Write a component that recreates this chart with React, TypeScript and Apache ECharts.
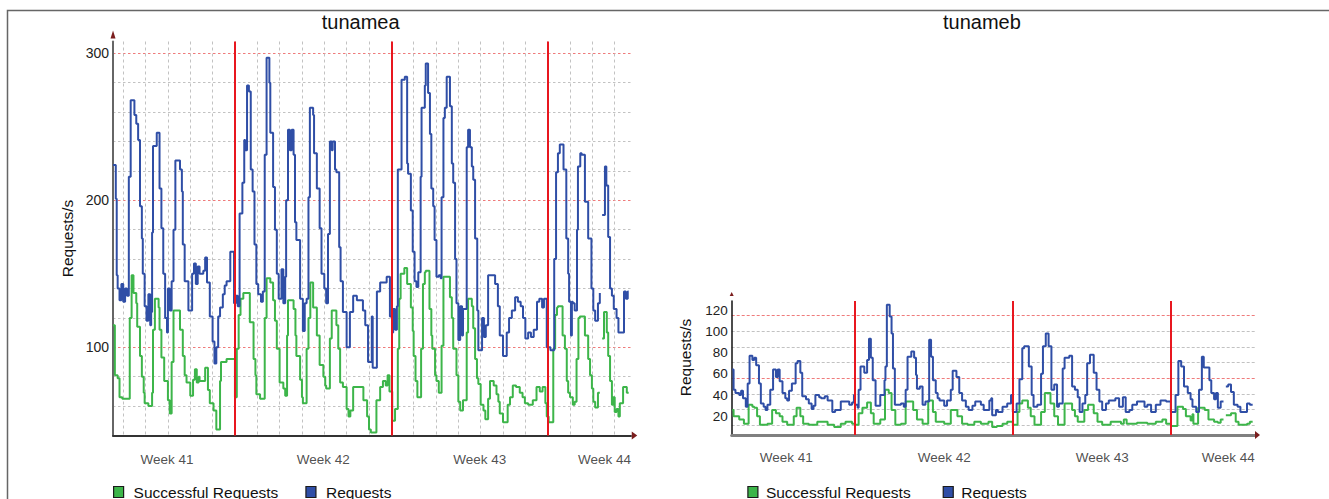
import React, { useEffect, useRef } from "react";
import * as echarts from "echarts";

type Pt = [number, number | null];

// ---------- texts / categories ----------
const panelTitles = ["tunamea", "tunameb"];
const seriesNames = ["Successful Requests", "Requests"];
const yAxisName = "Requests/s";
const weekLabels = ["Week 41", "Week 42", "Week 43", "Week 44"];
const weekLabelHours = [95, 263, 431, 565]; // hours since Monday of week 41
const weekStartHours = [168, 336, 504];
const yTickLabelsA = [100, 200, 300];
const yTickLabelsB = [20, 40, 60, 80, 100, 120];

// ---------- data: [hour since Mon wk41 00:00, requests/s] ----------
const requestsA: Pt[] = [
  [37,224],[40,201],[41,149],[42,140],[44,132],[46,143],[48,131],[50,140],[52,135],[54,216],[56,268],[60,258],[62,252],[64,241],[66,196],[68,174],[69,150],[71,128],[73,118],[75,136],[77,115],[78,124],[79,178],[80,237],[84,246],[87,208],[89,181],[91,150],[93,120],[95,110],[96,140],[98,125],[100,145],[102,180],[104,227],[109,221],[111,206],[112,170],[114,145],[118,125],[122,150],[124,157],[126,143],[128,155],[130,150],[134,152],[136,161],[138,144],[141,121],[144,104],[146,89],[148,100],[150,121],[152,127],[155,136],[157,142],[159,145],[163,165],[167,130],
  [169,135],[171,128],[173,191],[176,212],[178,241],[179,234],[181,278],[183,274],[185,221],[187,206],[189,170],[191,143],[193,136],[196,131],[198,138],[200,231],[202,297],[205,280],[206,246],[209,209],[211,180],[213,150],[215,133],[218,153],[220,130],[222,148],[223,200],[225,248],[227,234],[229,248],[231,231],[232.5,185],[234,173],[238,133],[241,111],[243,130],[245,133],[247,202],[248.5,263],[252,258],[253,232],[256,208],[259,181],[261,150],[264,140],[266,130],[268,177],[270,240],[272,234],[273,240],[275.5,221],[277,219],[280,168],[281.5,145],[284,124],[288,100],[291.5,124],[295,135],[299,132],[305.5,125],[308,115],[311,90],[315,121],[316,86],[320.5,138],[324,144],[331,148],[334.5,121],
  [337,110],[338,126],[340,112],[342,128],[343,221],[347,282],[350.5,284],[353,225],[354,218],[357,193],[359,165],[361,145],[363,141],[365,151],[367.5,216],[368.5,263],[372,278],[373,293],[375.5,273],[377.5,245],[379,208],[381,196],[382.5,173],[384.5,148],[387,149],[389,147],[390,202],[392,256],[393.5,263],[395.5,284],[399,264],[401,225],[402.5,212],[404.5,160],[406,130],[408,105],[410,128],[412,108],[413,126],[417,236],[418.5,248],[420.5,236],[422.5,223],[424,214],[426,174],[428.3,125],[429.5,98],[433.5,120],[435.5,107],[437.5,115],[440,149],[447.5,143],[450.5,128],[452.5,108],[456,94],[460,110],[462.5,120],[465.5,125],[469,134],[472,131],[475,128],[477.5,120],[480,106],[483,110],[486,107],[489,112],[492.5,131],[495,133],[498,127],[500,133],
  [503,100],[507,98],[511,160],[513,219],[515,232],[517,238],[521,221],[524,174],[526,150],[527,131],[529,108],[530,131],[531,130],[533,125],[535.5,180],[536.5,223],[539,232],[540.5,231],[544,199],[547.5,174],[551,140],[553,125],[555,118],[558,130],[560,137],[560.5,null],[562.5,190],[565.5,223],[567,210],[569,175],[571,140],[573,135],[575,126],[578,120],[580,110],[586,138],[588,133],[590,138],[591,138]
];

const successA: Pt[] = [
  [37,115],[39,81],[42,79],[44,66],[47,65],[55,120],[57,149],[59,137],[62,130],[63,114],[66,94],[68,80],[70,69],[71,62],[75,60],[79,69],[80,112],[82,133],[86,127],[87,112],[89,93],[92,77],[96,64],[98,55],[100,90],[102,125],[109,112],[112,94],[114,81],[116,76],[120,67],[123,78],[125,85],[127,76],[129,80],[130,77],[136,86],[139,71],[141,62],[145,57],[148,44],[152,77],[153,90],[159,92],[168,66],
  [170,99],[172,122],[174,133],[177,137],[184,117],[188,92],[190,81],[191,68],[195,65],[200,120],[202,147],[206,144],[209,132],[211,118],[213,99],[216,76],[220,72],[222,67],[224,108],[225,132],[231,126],[233,108],[234,94],[238,78],[240,66],[241,62],[245,99],[247,120],[249,144],[252,127],[256,108],[259,88],[263,80],[265,74],[266,72],[270,106],[272,125],[277,115],[279,99],[281,76],[284,73],[288,58],[290,53],[292,57],[295,73],[306,64],[310,53],[312,44],[314,42],[320,64],[324,73],[327,77],[330,74],[332,81],[334,70],
  [337,50],[340,58],[343,99],[344.5,133],[346,150],[350,154],[353,143],[357,127],[359,111],[360,94],[362,77],[364,66],[368,99],[370,143],[372,151],[373,152],[377,126],[379,108],[380,99],[383,81],[384.5,77],[387,69],[390,101],[392,148],[399,134],[401,120],[402.5,99],[406,81],[408,63],[410,57],[413,64],[417,110],[418.5,133],[422.5,128],[424,113],[426,92],[428,79],[429.5,75],[432,61],[435,57],[437,51],[440,65],[442,77],[446,74],[449,68],[451,63],[452.5,55],[456,49],[461,61],[463.5,66],[466.5,74],[470,73],[474,69],[477,66],[479.5,62],[483,61],[488,64],[492,73],[495.5,70],[498.5,73],[501.5,62],
  [503,53],[505,49],[510,99],[512,122],[514,127],[515,128],[520,108],[522.5,99],[524.5,77],[526,69],[528,66],[531,61],[533,63],[535,92],[537,120],[538.5,121],[544,108],[547.5,92],[549.5,81],[551.5,72],[553,63],[555,59],[558,69],[560,69],[560.5,null],[562.5,106],[564.5,124],[567.5,110],[569,94],[571,77],[573,61],[574.5,66],[576,56],[578,58],[580,53],[581.5,62],[585,73],[589,69],[591,69]
];

const requestsB: Pt[] = [
  [37.5,64],[39,45],[41,42],[45,40],[47,44],[49,37],[52,29],[54,51],[56,77],[59,73],[61,75],[63,68],[66,51],[68,32],[71,29],[73,26],[75,31],[78,45],[81,64],[84,57],[86,64],[88,53],[91,42],[94,37],[96,35],[98,44],[101,51],[105,70],[107,72],[110,61],[112,39],[116,36],[119,32],[122,27],[124,30],[126,40],[130,38],[132,37],[136,39],[139,35],[144,24],[147,26],[153,34],[158,34],[162,31],[165,33],[167,40],
  [168,31],[171,28],[172,45],[174,67],[178,61],[181,73],[183,93],[185,75],[187,54],[190,30],[195,40],[199.5,54],[200.5,67],[202,125],[205,114],[207,98],[208.5,65],[210.5,31],[217,32],[220,29],[222,45],[224,76],[228,81],[231,75],[233,59],[234,46],[237,48],[240,31],[243,34],[247,92],[249,76],[251,54],[254,42],[256,37],[258,35],[263,30],[266,35],[270,45],[272,63],[276,57],[279,42],[282,35],[286,29],[289,26],[293,30],[296,34],[302,31],[305,26],[311,35],[313,37],[314,21],[318,26],[320,24],[325,29],[330,32],[334,40],
  [336,24],[340,32],[343,55],[346,84],[348,86],[353,67],[356,40],[358,29],[362,31],[366,60],[368,86],[371,98],[374,86],[377,45],[380,50],[383,29],[385,32],[389,65],[391,75],[396,77],[399,48],[402,45],[405,38],[407,24],[410,32],[413,40],[415,70],[418,78],[422,61],[425,45],[428,34],[431,26],[435,32],[438,35],[445,37],[449,29],[453,38],[456,24],[460,26],[463,31],[468,34],[476,29],[479,31],[483,24],[488,31],[493,35],[499,34],
  [504,24],[509,40],[512,72],[515,67],[518,48],[522,42],[525,36],[527,29],[531,24],[534,45],[537,76],[539,66],[545,54],[547,42],[550,36],[552,42],[554,28],[557,34],[560,34],[560.5,null],[562.5,48],[565,50],[568,43],[571,31],[575,29],[578,24],[585,32],[588,31],[591,31]
];

const successB: Pt[] = [
  [37.5,26],[39,20],[45,17],[50,13],[55,31],[59,29],[61,28],[64,20],[67,12],[75,13],[80,26],[84,23],[88,20],[91,15],[96,12],[103,20],[106,28],[110,20],[113,13],[119,12],[128,15],[139,12],[146,10],[153,13],[158,15],[165,13],
  [168,12],[172,23],[176,28],[181,33],[185,23],[188,13],[195,17],[200,45],[204,42],[207,26],[211,12],[217,13],[222,34],[230,26],[234,17],[240,13],[246,35],[251,24],[254,15],[263,13],[270,26],[277,20],[282,13],[288,12],[295,15],[302,13],[310,15],[314,10],[319,11],[325,13],[330,15],
  [336,12],[341,24],[343,32],[346,35],[352,28],[355,20],[359,12],[366,24],[370,42],[376,32],[380,20],[384,12],[391,32],[399,26],[402,20],[405,15],[412,26],[416,31],[422,23],[426,15],[431,12],[440,15],[451,13],[454,17],[457,13],[468,14],[479,13],[488,15],[495,17],[499,13],
  [504,11],[511,29],[517,27],[520,20],[525,16],[527,22],[528,13],[533,28],[540,26],[544,17],[550,15],[554,14],[557,17],[560,17],[560.5,null],[562.5,21],[568,23],[573,15],[576,12],[585,13],[588,15],[591,15]
];

// ---------- layout / style ----------
const W = 1329;
const H = 499;
const FONT = '"Liberation Sans", Arial, Helvetica, sans-serif';
const X_MIN = 37;
const X_MAX = 593.5;
const Y_MIN_A = 40;
const Y_MAX_A = 308;
const Y_MIN_B = 2.45;
const Y_MAX_B = 128.5;

const BLUE = "#2f4ea6";
const GREEN = "#3db54a";
const RED = "#e8171f";
const GRID_GRAY = "#c2c2c2";
const GRID_RED = "#ef7b7b";
const ARROW = "#7b1d1d";

const gridA = { left: 113, right: W - 631, top: 41.5, bottom: H - 435.5 };
const gridB = { left: 731.7, right: W - 1255, top: 301, bottom: H - 435 };
const gridBLines = { left: 731.7, right: W - 1255, top: 315.7, bottom: H - 425 };

const pxPerHourA = (W - gridA.left - gridA.right) / (X_MAX - X_MIN);
const firstDay = Math.ceil(X_MIN / 24) * 24;
const lastDay = Math.floor(X_MAX / 24) * 24;
const dayGridA = {
  left: gridA.left + (firstDay - X_MIN) * pxPerHourA,
  width: (lastDay - firstDay) * pxPerHourA,
  top: gridA.top,
  bottom: gridA.bottom,
};

const off = { show: false };

function mainX(gridIndex: number, color: string, width: number) {
  return {
    gridIndex, type: "value", min: X_MIN, max: X_MAX,
    axisLine: { show: true, onZero: false, lineStyle: { color, width } },
    axisTick: off, axisLabel: off, splitLine: off,
  };
}
function arrowAxis(gridIndex: number, min: number, max: number, size: number[], offset: number) {
  return {
    gridIndex, type: "value", min, max,
    axisLine: {
      show: true, onZero: false, symbol: ["none", "triangle"], symbolSize: size,
      symbolOffset: [0, offset], lineStyle: { color: ARROW, width: 0 },
    },
    axisTick: off, axisLabel: off, splitLine: off,
  };
}

function lineSeries(name: string, data: Pt[], color: string, axis: number, extra: any = {}) {
  return {
    type: "line", name, data, xAxisIndex: axis, yAxisIndex: axis, step: "end",
    showSymbol: false, symbol: "none", connectNulls: false, silent: true, z: 3,
    color, lineStyle: { color, width: 2 }, itemStyle: { color },
    emphasis: { disabled: true }, ...extra,
  };
}
function weekMarks() {
  return {
    silent: true, symbol: ["none", "none"], label: { show: false },
    lineStyle: { color: RED, width: 2, type: "solid" }, emphasis: { disabled: true },
    data: weekStartHours.map((h) => ({ xAxis: h })),
  };
}
function weekLabelSeries(axis: number, yBase: number, distance: number) {
  return {
    type: "scatter", name: "weeks" + axis, xAxisIndex: axis, yAxisIndex: axis,
    data: weekLabelHours.map((h) => [h, yBase]), symbolSize: 1, clip: false, silent: true,
    itemStyle: { color: "rgba(0,0,0,0)" },
    label: {
      show: true, position: "bottom", distance, fontSize: 13.5, color: "#222", fontFamily: FONT,
      formatter: (p: any) => weekLabels[p.dataIndex],
    },
  };
}
function legendFor(left: number, itemGap: number, textPad: number) {
  return {
    data: seriesNames, left, top: 484, padding: 0, icon: "rect", itemWidth: 10, itemHeight: 11,
    itemGap, selectedMode: false,
    itemStyle: { borderColor: "#1a1a1a", borderWidth: 1.2 },
    textStyle: { fontSize: 15.5, color: "#111", fontFamily: FONT, padding: [0, 0, 0, textPad] },
  };
}

const option: any = {
  animation: false,
  backgroundColor: "#ffffff",
  textStyle: { fontFamily: FONT },
  title: [
    { text: panelTitles[0], left: 321.7, top: 12, padding: 0, textStyle: { fontSize: 20, fontWeight: "normal", color: "#111", fontFamily: FONT } },
    { text: panelTitles[1], left: 943, top: 12, padding: 0, textStyle: { fontSize: 20, fontWeight: "normal", color: "#111", fontFamily: FONT } },
  ],
  legend: [legendFor(113, 27, 5), legendFor(747.3, 32, 3)],
  grid: [gridA, gridA, dayGridA, gridB, gridB, gridBLines],
  xAxis: [
    mainX(0, "#333333", 2),
    arrowAxis(1, X_MIN, X_MAX, [8, 5.5], 3.5),
    {
      gridIndex: 2, type: "value", min: firstDay, max: lastDay, interval: 24,
      axisLine: off, axisTick: off, axisLabel: off,
      splitLine: { show: true, lineStyle: { color: GRID_GRAY, type: [3, 3], width: 1 } },
    },
    mainX(3, "#808080", 3),
    arrowAxis(4, X_MIN, X_MAX, [8, 5], 2.5),
    { gridIndex: 5, type: "value", min: 0, max: 1, show: false },
  ],
  yAxis: [
    {
      gridIndex: 0, type: "value", min: Y_MIN_A, max: Y_MAX_A, interval: 20,
      axisLine: { show: true, onZero: false, lineStyle: { color: "#666666", width: 2 } },
      axisTick: off,
      axisLabel: {
        margin: 4, fontSize: 14, color: "#222", fontFamily: FONT,
        formatter: (v: number) => (yTickLabelsA.includes(v) ? String(v) : ""),
      },
      splitLine: {
        show: true, showMaxLine: false,
        lineStyle: { color: [GRID_GRAY, GRID_GRAY, GRID_GRAY, GRID_RED, GRID_GRAY], type: [2.5, 2.5], width: 1 },
      },
      name: yAxisName, nameLocation: "middle", nameGap: 38,
      nameTextStyle: { fontSize: 15.5, color: "#111", fontFamily: FONT },
    },
    arrowAxis(1, Y_MIN_A, Y_MAX_A, [5, 8], 7),
    { gridIndex: 2, type: "value", min: 0, max: 1, show: false },
    {
      gridIndex: 3, type: "value", min: Y_MIN_B, max: Y_MAX_B, splitNumber: 6, minInterval: 20, maxInterval: 20,
      axisLine: { show: true, onZero: false, lineStyle: { color: "#111111", width: 1.5 } },
      axisTick: off,
      axisLabel: {
        margin: 4, fontSize: 13.5, color: "#222", fontFamily: FONT,
        formatter: (v: number) => (yTickLabelsB.some((t) => Math.abs(t - v) < 1e-6) ? String(Math.round(v)) : ""),
      },
      splitLine: off,
      name: yAxisName, nameLocation: "middle", nameGap: 38,
      nameTextStyle: { fontSize: 15.5, color: "#111", fontFamily: FONT, padding: [0, 0, 0, 21] },
    },
    arrowAxis(4, Y_MIN_B, Y_MAX_B, [4, 4], 7),
    {
      gridIndex: 5, type: "value", min: 0, max: 7, interval: 1,
      axisLine: off, axisTick: off, axisLabel: off,
      splitLine: { show: true, lineStyle: { color: [GRID_GRAY, GRID_GRAY, GRID_GRAY, GRID_RED], type: [3, 2], width: 1 } },
    },
  ],
  series: [
    lineSeries(seriesNames[0], successA, GREEN, 0),
    lineSeries(seriesNames[1], requestsA, BLUE, 0, { markLine: weekMarks() }),
    weekLabelSeries(0, Y_MIN_A, 16),
    lineSeries(seriesNames[0], successB, GREEN, 3),
    lineSeries(seriesNames[1], requestsB, BLUE, 3, { markLine: weekMarks() }),
    weekLabelSeries(3, Y_MIN_B, 15),
  ],
  graphic: [
    {
      type: "polyline", silent: true,
      shape: { points: [[7.5, H], [7.5, 10.5], [W, 10.5]] },
      style: { stroke: "#666666", lineWidth: 1.5, fill: null },
    },
  ],
};

export default function App() {
  const ref = useRef<HTMLDivElement>(null);
  useEffect(() => {
    if (!ref.current) return;
    const chart = echarts.init(ref.current, undefined, { renderer: "svg" });
    chart.setOption(option);
    return () => chart.dispose();
  }, []);
  return (
    <div
      ref={ref}
      style={{ position: "absolute", left: 0, top: 0, width: W, height: H, background: "#ffffff" }}
    />
  );
}
